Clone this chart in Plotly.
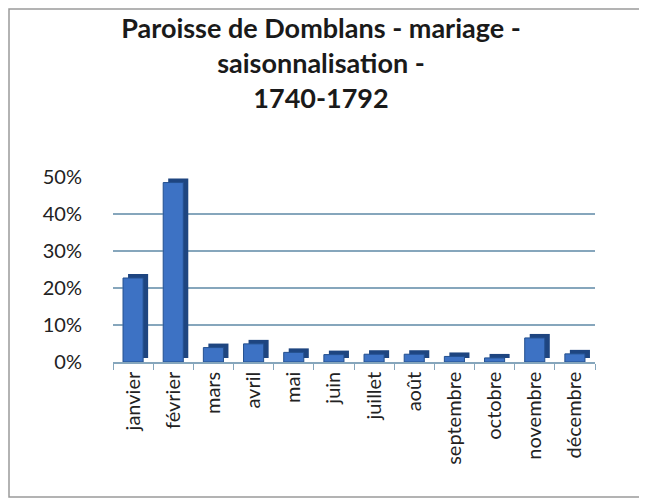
import plotly.graph_objects as go

mois = ["janvier", "février", "mars", "avril", "mai", "juin", "juillet",
        "août", "septembre", "octobre", "novembre", "décembre"]
parts = [0.227, 0.485, 0.039, 0.049, 0.026, 0.020, 0.021, 0.021,
         0.015, 0.011, 0.065, 0.022]
y_ticks = [0, 0.1, 0.2, 0.3, 0.4, 0.5]
titre = "Paroisse de Domblans - mariage -<br>saisonnalisation -<br>1740-1792"

W, H = 647, 501
L, R, T, B = 105, 60, 169, 147
pw = W - L - R
ph = H - T - B
dx = 5 / (pw / 12)          # depth offset in category units
dy = 4 / (ph / 0.5)         # depth offset in value units

font = "Lato, 'Open Sans', sans-serif"
grid_col = "#86A6BC"

fig = go.Figure()
# invisible base trace on the main axes (carries ticks / grid)
fig.add_trace(go.Bar(x=mois, y=parts, marker_color="rgba(0,0,0,0)",
                     xaxis="x", yaxis="y", hoverinfo="skip", showlegend=False))
# depth (shadow) of the bars
fig.add_trace(go.Bar(x=mois, y=parts, marker=dict(color="#1E4580", line=dict(width=0)),
                     width=0.5, xaxis="x2", yaxis="y2", showlegend=False))
# front faces
fig.add_trace(go.Bar(x=mois, y=parts,
                     marker=dict(color="#3D72C4", line=dict(color="#24508F", width=1)),
                     width=0.5, xaxis="x3", yaxis="y3", showlegend=False))

fig.update_layout(
    width=W, height=H,
    margin=dict(l=L, r=R, t=T, b=B),
    paper_bgcolor="white", plot_bgcolor="white",
    title=dict(text=titre, x=313 / W, xref="container", xanchor="center",
               y=1 - 30 / H, yanchor="middle",
               font=dict(family=font, size=27, color="#1a1a1a", weight="bold")),
    font=dict(family=font, color="#222222"),
    bargap=0.5,
    xaxis=dict(type="category", categoryarray=mois, range=[-0.5, 11.5],
               tickangle=-90, tickfont=dict(size=20), ticks="outside", ticklen=6,
               tickson="boundaries",
               tickcolor=grid_col, showline=True, linecolor=grid_col, linewidth=1.5,
               showgrid=False, fixedrange=True),
    yaxis=dict(range=[0, 0.5], tickvals=y_ticks, tickformat=".0%",
               tickfont=dict(size=20), showgrid=True, gridcolor=grid_col, gridwidth=1.5,
               zeroline=False, ticklabelstandoff=30, showline=False),
    xaxis2=dict(type="category", categoryarray=mois, range=[-0.5 - dx, 11.5 - dx],
                overlaying="x", visible=False),
    yaxis2=dict(range=[-dy, 0.5 - dy], overlaying="y", visible=False),
    xaxis3=dict(type="category", categoryarray=mois, range=[-0.5, 11.5],
                overlaying="x", visible=False),
    yaxis3=dict(range=[0, 0.5], overlaying="y", visible=False),
    shapes=[dict(type="rect", xref="paper", yref="paper",
                 x0=(1 - L) / pw, x1=(632 - L) / pw,
                 y0=(H - B - 489) / ph, y1=(H - B - 1) / ph,
                 line=dict(color="#9a9a9a", width=1.5), layer="below")],
)

fig.write_html("out.html")
